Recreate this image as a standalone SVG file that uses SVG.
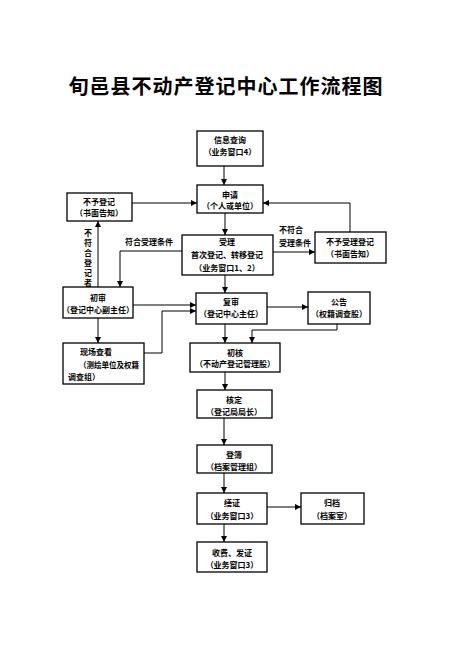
<svg xmlns="http://www.w3.org/2000/svg" width="455" height="646" viewBox="0 0 455 646">
<defs>
<marker id="ah" viewBox="0 0 10 10" refX="10" refY="5" markerWidth="6" markerHeight="6" markerUnits="userSpaceOnUse" orient="auto">
<path d="M0,0 L10,5 L0,10 z" fill="#000"/>
</marker>
</defs>
<style>
.box{fill:#fff;stroke:#000;stroke-width:1.3}
.t{font-family:"Noto Sans CJK SC","Noto Sans",sans-serif;font-size:8px;font-weight:bold;fill:#000;text-anchor:middle}
.l{font-family:"Noto Sans CJK SC","Noto Sans",sans-serif;font-size:8px;font-weight:bold;fill:#000}
.c{fill:none;stroke:#000;stroke-width:1;marker-end:url(#ah)}
.title{font-family:"Noto Sans CJK SC","Noto Sans",sans-serif;font-size:20px;font-weight:bold;fill:#000;text-anchor:middle;letter-spacing:1px}
</style>
<rect width="455" height="646" fill="#fff"/>
<text class="title" x="226" y="94">旬邑县不动产登记中心工作流程图</text>

<g id="connectors">
<path class="c" d="M224,166 V185"/>
<path class="c" d="M132,203 H197"/>
<path class="c" d="M350,232 V203 H263"/>
<path class="c" d="M225,213 V235"/>
<path class="c" d="M182,251 H120 V287"/>
<text class="l" x="125" y="245">符合受理条件</text>
<path class="c" d="M273,252 H315"/>
<text class="l" x="279" y="233">不符合</text>
<text class="l" x="279" y="246">受理条件</text>
<path class="c" d="M98,287 V221"/>
<g class="t">
<text x="88" y="236">不</text>
<text x="88" y="246">符</text>
<text x="88" y="256">合</text>
<text x="88" y="266">登</text>
<text x="88" y="276">记</text>
<text x="88" y="286">者</text>
</g>
<path class="c" d="M225,275 V293"/>
<path class="c" d="M133,305 H196"/>
<path class="c" d="M98,318 V343"/>
<path class="c" d="M144,353 H162 V311 H196"/>
<path class="c" d="M267,307 H308"/>
<path class="c" d="M225,324 V343"/>
<path class="c" d="M337,324 V330 H252 V343"/>
<path class="c" d="M225,372 V390"/>
<path class="c" d="M224,418 V445"/>
<path class="c" d="M224,473 V493"/>
<path class="c" d="M267,507 H301"/>
<path class="c" d="M224,524 V542"/>
</g>

<g id="n1"><rect class="box" x="197" y="131" width="66" height="35"/><text class="t" x="230" y="143">信息查询</text><text class="t" x="230" y="155">（业务窗口4）</text></g>
<g id="n2"><rect class="box" x="197" y="185" width="66" height="28"/><text class="t" x="230" y="198">申请</text><text class="t" x="230" y="209">（个人或单位）</text></g>
<g id="n3"><rect class="box" x="67" y="193" width="65" height="28"/><text class="t" x="99" y="205">不予登记</text><text class="t" x="99" y="216">（书面告知）</text></g>
<g id="n4"><rect class="box" x="182" y="235" width="91" height="40"/><text class="t" x="227" y="245">受理</text><text class="t" x="227" y="258">首次登记、转移登记</text><text class="t" x="227" y="271">（业务窗口1、2）</text></g>
<g id="n5"><rect class="box" x="315" y="232" width="71" height="31"/><text class="t" x="350" y="245">不予受理登记</text><text class="t" x="350" y="257">（书面告知）</text></g>
<g id="n6"><rect class="box" x="63" y="287" width="70" height="31"/><text class="t" x="98" y="301">初审</text><text class="t" x="98" y="313">（登记中心副主任）</text></g>
<g id="n7"><rect class="box" x="196" y="293" width="71" height="31"/><text class="t" x="231" y="305">复审</text><text class="t" x="231" y="317">（登记中心主任）</text></g>
<g id="n8"><rect class="box" x="308" y="292" width="62" height="32"/><text class="t" x="339" y="305">公告</text><text class="t" x="339" y="317">（权籍调查股）</text></g>
<g id="n9"><rect class="box" x="63" y="343" width="81" height="41"/><text class="t" x="96" y="355">现场查看</text><text class="l" x="79" y="368" textLength="60" lengthAdjust="spacingAndGlyphs">（测绘单位及权籍</text><text class="l" x="68" y="380">调查组）</text></g>
<g id="n10"><rect class="box" x="190" y="343" width="90" height="29"/><text class="t" x="235" y="356">初核</text><text class="t" x="235" y="367">（不动产登记管理股）</text></g>
<g id="n11"><rect class="box" x="197" y="390" width="75" height="28"/><text class="t" x="234" y="403">核定</text><text class="t" x="234" y="415">（登记局局长）</text></g>
<g id="n12"><rect class="box" x="197" y="445" width="75" height="28"/><text class="t" x="234" y="458">登簿</text><text class="t" x="234" y="470">（档案管理组）</text></g>
<g id="n13"><rect class="box" x="197" y="493" width="70" height="31"/><text class="t" x="232" y="506">缮证</text><text class="t" x="232" y="519">（业务窗口3）</text></g>
<g id="n14"><rect class="box" x="301" y="493" width="63" height="31"/><text class="t" x="332" y="506">归档</text><text class="t" x="332" y="519">（档案室）</text></g>
<g id="n15"><rect class="box" x="197" y="542" width="70" height="30"/><text class="t" x="232" y="556">收费、发证</text><text class="t" x="232" y="568">（业务窗口3）</text></g>
</svg>
